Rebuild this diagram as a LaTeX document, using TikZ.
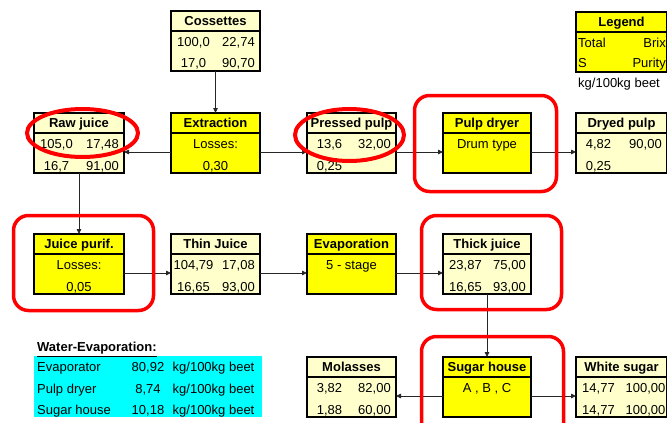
\documentclass[tikz,border=0pt]{standalone}
\usepackage{fontspec}
\setmainfont{Liberation Sans}
\usetikzlibrary{arrows.meta}
\definecolor{paleyellow}{HTML}{FFFFCC}
\definecolor{procyellow}{HTML}{FFFF00}
\definecolor{watercyan}{HTML}{00FFFF}
\definecolor{markred}{HTML}{FF0000}

\tikzset{
  boxshape/.style={draw=black, line width=2pt, rectangle, inner sep=0pt, outer sep=0pt, minimum height=60pt},
  title/.style={font=\fontsize{13}{15}\selectfont\bfseries, inner sep=0pt, text height=11pt, text depth=1.7pt},
  val/.style={font=\fontsize{13}{15}\selectfont, inner sep=0pt, text height=11pt, text depth=1.7pt},
  flow/.style={draw=black!85, line width=0.8pt, -{Triangle[length=5pt,width=4.5pt]}},
  ring/.style={draw=markred, line width=3.5pt, rounded corners=15pt},
  oval/.style={draw=markred, line width=4pt},
}

% box with a header strip: name, left, top, width, fill, title
\newcommand\flowbox[6]{%
  \node[boxshape, fill=#5, minimum width=#4pt, anchor=north west] (#1) at (#2,#3) {};
  \draw[line width=2pt] ([yshift=-20pt]#1.north west) -- ([yshift=-20pt]#1.north east);
  \node[title] (#1-t) at ([yshift=-10pt]#1.north) {#6};
}
% two-column value row: name, row id, vertical offset, left value, right value
\newcommand\datarow[5]{%
  \node[val] (#1-#2l) at ([xshift=22.5pt,yshift=-#3pt]#1.north west) {#4};
  \node[val] (#1-#2r) at ([xshift=-21.5pt,yshift=-#3pt]#1.north east) {#5};
}
% centred single-line row: name, row id, vertical offset, text
\newcommand\midrow[4]{%
  \node[val] (#1-#2) at ([yshift=-#3pt]#1.north) {#4};
}

\begin{document}
\begin{tikzpicture}[x=1pt, y=-1pt]
\useasboundingbox (0,0) rectangle (667,423);
\clip (0,0) rectangle (667,423);
\fill[white] (0,0) rectangle (667,423);

% water evaporation table
\fill[watercyan] (34,356) rectangle (262,417);
\node[title, anchor=base west] (water-title) at (37,351.6) {\underline{Water-Evaporation:}};
\node[val, anchor=base west] (w1a) at (37,371.6) {Evaporator};
\node[val, anchor=base] (w1b) at (148,371.6) {80,92};
\node[val, anchor=base west] (w1c) at (172.5,371.6) {kg/100kg beet};
\node[val, anchor=base west] (w2a) at (37,393.6) {Pulp dryer};
\node[val, anchor=base] (w2b) at (148,393.6) {8,74};
\node[val, anchor=base west] (w2c) at (172.5,393.6) {kg/100kg beet};
\node[val, anchor=base west] (w3a) at (37,414.6) {Sugar house};
\node[val, anchor=base] (w3b) at (148,414.6) {10,18};
\node[val, anchor=base west] (w3c) at (172.5,414.6) {kg/100kg beet};

% top row
\flowbox{coss}{171}{11}{89}{paleyellow}{Cossettes}
\datarow{coss}{1}{31}{100,0}{22,74}
\datarow{coss}{2}{52}{17,0}{90,70}

\flowbox{legend}{576}{12}{91}{procyellow}{Legend}
\node[val, anchor=west] (legend-1l) at ([xshift=2pt,yshift=-31pt]legend.north west) {Total};
\node[val, anchor=east] (legend-1r) at ([xshift=-1pt,yshift=-31pt]legend.north east) {Brix};
\node[val, anchor=west] (legend-2l) at ([xshift=2pt,yshift=-51pt]legend.north west) {S};
\node[val, anchor=east] (legend-2r) at ([xshift=-1pt,yshift=-51pt]legend.north east) {Purity};
\node[val, anchor=base west] (legend-unit) at (578,87.6) {kg/100kg beet};

% second row
\flowbox{raw}{34}{113}{90}{paleyellow}{Raw juice}
\datarow{raw}{1}{31}{105,0}{17,48}
\datarow{raw}{2}{53}{16,7}{91,00}

\flowbox{extr}{171}{113}{89}{procyellow}{Extraction}
\midrow{extr}{1}{31}{Losses:}
\midrow{extr}{2}{53}{0,30}

\flowbox{press}{307}{113}{89}{paleyellow}{Pressed pulp}
\datarow{press}{1}{31}{13,6}{32,00}
\node[val] (press-2l) at ([xshift=22.5pt,yshift=-53pt]press.north west) {0,25};

\flowbox{dryer}{443}{113}{88}{procyellow}{Pulp dryer}
\midrow{dryer}{1}{31}{Drum type}

\flowbox{dryed}{576}{113}{91}{paleyellow}{Dryed pulp}
\datarow{dryed}{1}{31}{4,82}{90,00}
\node[val] (dryed-2l) at ([xshift=22.5pt,yshift=-53pt]dryed.north west) {0,25};

% third row
\flowbox{purif}{34}{234}{90}{procyellow}{Juice purif.}
\midrow{purif}{1}{31}{Losses:}
\midrow{purif}{2}{53}{0,05}

\flowbox{thin}{171}{234}{89}{paleyellow}{Thin Juice}
\datarow{thin}{1}{31}{104,79}{17,08}
\datarow{thin}{2}{53}{16,65}{93,00}

\flowbox{evap}{307}{234}{89}{procyellow}{Evaporation}
\midrow{evap}{1}{31}{5 - stage}

\flowbox{thick}{443}{234}{88}{paleyellow}{Thick juice}
\datarow{thick}{1}{31}{23,87}{75,00}
\datarow{thick}{2}{53}{16,65}{93,00}

% bottom row
\flowbox{mol}{307}{357}{89}{paleyellow}{Molasses}
\datarow{mol}{1}{31}{3,82}{82,00}
\datarow{mol}{2}{53}{1,88}{60,00}

\flowbox{sugar}{443}{357}{88}{procyellow}{Sugar house}
\midrow{sugar}{1}{31}{A , B , C}

\flowbox{white}{576}{357}{91}{paleyellow}{White sugar}
\datarow{white}{1}{31}{14,77}{100,00}
\datarow{white}{2}{53}{14,77}{100,00}

% material flows
\draw[flow] (coss.south) -- (extr.north);
\draw[flow] ([yshift=-9pt]extr.west) -- ([yshift=-9pt]raw.east);
\draw[flow] ([yshift=-9pt]extr.east) -- ([yshift=-9pt]press.west);
\draw[flow] ([yshift=-9pt]press.east) -- ([yshift=-9pt]dryer.west);
\draw[flow] ([yshift=-9pt]dryer.east) -- ([yshift=-9pt]dryed.west);
\draw[flow] (raw.south) -- (purif.north);
\draw[flow] ([yshift=-9pt]purif.east) -- ([yshift=-9pt]thin.west);
\draw[flow] ([yshift=-9pt]thin.east) -- ([yshift=-9pt]evap.west);
\draw[flow] ([yshift=-9pt]evap.east) -- ([yshift=-9pt]thick.west);
\draw[flow] (thick.south) -- (sugar.north);
\draw[flow] ([yshift=-9pt]sugar.west) -- ([yshift=-9pt]mol.east);
\draw[flow] ([yshift=-9pt]sugar.east) -- ([yshift=-9pt]white.west);

% red highlights
\draw[ring] (414.5,95.5) rectangle (556.5,191.5);
\draw[ring] (13.5,215.5) rectangle (153.5,310.5);
\draw[ring] (421.5,215.5) rectangle (561.5,309.5);
\draw[ring] (421.5,336.5) rectangle (563.5,445);
\draw[oval] (82.5,133) ellipse [x radius=55.5pt, y radius=24pt];
\draw[oval] (349.5,135) ellipse [x radius=54.5pt, y radius=26pt];
\end{tikzpicture}
\end{document}
